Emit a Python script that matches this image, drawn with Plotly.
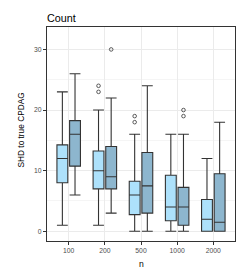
import plotly.graph_objects as go

categories = ["100", "200", "500", "1000", "2000"]

# series A (light blue)
a_low = [1, 1, 0, 0, 0]
a_q1 = [8, 7, 2.75, 1.75, 0]
a_med = [12, 10, 6, 4, 2]
a_q3 = [14.25, 13.25, 8.25, 9.25, 5.25]
a_high = [23, 20, 16, 16, 12]
a_out = [[], [24, 23], [19, 18], [], []]

# series B (darker blue)
b_low = [6, 3, 0, 0, 0]
b_q1 = [10.75, 7, 3, 1, 0]
b_med = [16, 9, 7.5, 4, 1.5]
b_q3 = [18.25, 14, 13, 7.25, 9.5]
b_high = [26, 22, 24, 16, 18]
b_out = [[], [30], [], [20, 19], []]

pos = list(range(1, len(categories) + 1))
dodge = 0.175
bw = 0.3

W, H = 248, 279
ML, MR, MT, MB = 47, 13, 27, 38

fig = go.Figure()

series = [
    (a_low, a_q1, a_med, a_q3, a_high, a_out, -dodge, "#ADE1FB"),
    (b_low, b_q1, b_med, b_q3, b_high, b_out, dodge, "#8DB6CE"),
]
for low, q1, med, q3, high, out, off, col in series:
    xs = [p + off for p in pos]
    fig.add_trace(go.Box(
        x=xs, q1=q1, median=med, q3=q3, lowerfence=low, upperfence=high,
        width=bw, fillcolor=col, line=dict(color="#333333", width=1.1),
        whiskerwidth=1, boxpoints=False, showlegend=False, hoverinfo="skip",
    ))
    ox, oy = [], []
    for x, vals in zip(xs, out):
        for v in vals:
            ox.append(x)
            oy.append(v)
    fig.add_trace(go.Scatter(
        x=ox, y=oy, mode="markers", showlegend=False, hoverinfo="skip",
        marker=dict(symbol="circle-open", size=3.6, color="#333333",
                    line=dict(width=0.8, color="#333333")),
    ))

pw = W - ML - MR
ph = H - MT - MB

fig.update_layout(
    width=W, height=H,
    margin=dict(l=ML, r=MR, t=MT, b=MB, autoexpand=False),
    paper_bgcolor="white", plot_bgcolor="white",
    font=dict(family="Liberation Sans, Arial, sans-serif", color="#000000"),
    title=dict(text="Count", x=ML / W, xref="container", xanchor="left",
               y=1 - 18 / H, yref="container", yanchor="middle",
               font=dict(size=10.8, color="#000000")),
    showlegend=False,
    hovermode=False,
    annotations=[
        dict(text="n", xref="paper", yref="paper", x=0.5, y=-(264 - (MT + ph)) / ph,
             xanchor="center", yanchor="middle", showarrow=False,
             font=dict(size=8.6, color="#000000")),
        dict(text="SHD to true CPDAG", xref="paper", yref="paper",
             x=-(ML - 20) / pw, y=1 - (129.5 - MT) / ph, textangle=-90,
             xanchor="center", yanchor="middle", showarrow=False,
             font=dict(size=8.3, color="#000000")),
    ],
)
fig.update_xaxes(
    range=[0.4, 5.6], tickvals=pos, ticktext=categories, automargin=False,
    showgrid=True, gridcolor="#EBEBEB", gridwidth=1,
    zeroline=False, showline=True, mirror=True, linecolor="#333333", linewidth=1,
    ticks="outside", ticklen=3, tickcolor="#333333",
    tickfont=dict(size=6.8, color="#4D4D4D"),
)
fig.update_yaxes(
    range=[-1.6, 33.7], tickvals=[0, 10, 20, 30], automargin=False,
    showgrid=True, gridcolor="#EBEBEB", gridwidth=1,
    minor=dict(tickvals=[5, 15, 25], showgrid=True, gridcolor="#F5F5F5", gridwidth=0.6),
    zeroline=False, showline=True, mirror=True, linecolor="#333333", linewidth=1,
    ticks="outside", ticklen=3, tickcolor="#333333",
    tickfont=dict(size=6.8, color="#4D4D4D"),
)

fig.write_html("out.html", config={"displayModeBar": False},
               post_script="document.body.style.margin='0';")
